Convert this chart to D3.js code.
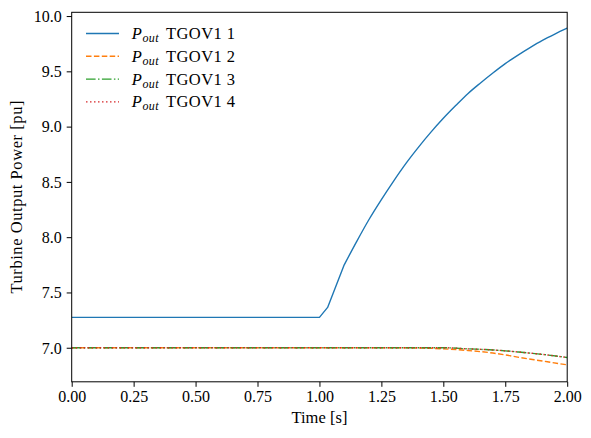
<!DOCTYPE html>
<html lang="en">
<head>
<meta charset="UTF-8">
<title>Turbine Output Power</title>
<style>
  body { margin: 0; background: #fff; }
  svg text { font-family: "Liberation Serif", "DejaVu Serif", serif; fill: #000; }
</style>
</head>
<body>
<svg id="chart" width="591" height="438"></svg>
<script src="https://cdn.jsdelivr.net/npm/d3@7"></script>
<script>
// time samples and read-off values
const timeP1 = [0, 1.0, 1.033, 1.10, 1.15, 1.20, 1.25, 1.30, 1.35, 1.40, 1.45, 1.50, 1.55, 1.60, 1.65, 1.70, 1.75, 1.80, 1.85, 1.90, 1.95, 2.00];
const valP1 = [7.275, 7.275, 7.365, 7.75, 7.96, 8.16, 8.34, 8.51, 8.67, 8.815, 8.95, 9.075, 9.19, 9.30, 9.395, 9.485, 9.57, 9.645, 9.715, 9.78, 9.837, 9.89];

const timeP2 = [0, 1.0, 1.30, 1.40, 1.50, 1.60, 1.70, 1.75, 1.80, 1.90, 2.00];
const valP2 = [7.0, 7.0, 7.0, 6.998, 6.99, 6.975, 6.952, 6.935, 6.915, 6.88, 6.845];

const timeP3 = [0, 1.0, 1.50, 1.60, 1.70, 1.75, 1.80, 1.90, 2.00];
const valP3 = [7.0, 7.0, 7.0, 6.99, 6.98, 6.972, 6.962, 6.94, 6.912];
const valP4 = [7.0, 7.0, 7.0, 6.99, 6.98, 6.972, 6.962, 6.94, 6.912];

const xTicks = [0, 0.25, 0.5, 0.75, 1.0, 1.25, 1.5, 1.75, 2.0];
const yTicks = [7.0, 7.5, 8.0, 8.5, 9.0, 9.5, 10.0];
const seriesNames = ["TGOV1 1", "TGOV1 2", "TGOV1 3", "TGOV1 4"];

// split: step response is piecewise linear up to this index, smooth after
const kinkEnd = 3;

const series = [
  { t: timeP1, v: valP1, color: "#1f77b4", dash: null, split: kinkEnd },
  { t: timeP2, v: valP2, color: "#ff7f0e", dash: "5.5,2.4", split: 0 },
  { t: timeP3, v: valP3, color: "#2ca02c", dash: "9.6,2.4,1.5,2.4", split: 0 },
  { t: timeP3, v: valP4, color: "#d62728", dash: "1.5,2.5", split: 0 }
];

const svg = d3.select("#chart");
const mLeft = 71.7, mTop = 12.3, w = 495.5, h = 369.5;
const fs = 16;

const x = d3.scaleLinear().domain([0, 2]).range([mLeft, mLeft + w]);
const y = d3.scaleLinear().domain([6.692, 10.034]).range([mTop + h, mTop]);

// lines
svg.append("clipPath").attr("id", "clip")
  .append("rect").attr("x", mLeft).attr("y", mTop).attr("width", w).attr("height", h);

const lineLin = d3.line().x(d => x(d[0])).y(d => y(d[1]));
const lineSmooth = d3.line().x(d => x(d[0])).y(d => y(d[1])).curve(d3.curveMonotoneX);
const g = svg.append("g").attr("clip-path", "url(#clip)");
series.forEach(s => {
  const pts = s.t.map((t, i) => [t, s.v[i]]);
  let d = lineSmooth(pts.slice(s.split));
  if (s.split > 0) d = lineLin(pts.slice(0, s.split + 1)) + d.replace(/^M/, "L");
  g.append("path")
    .attr("d", d)
    .attr("fill", "none")
    .attr("stroke", s.color)
    .attr("stroke-width", 1.4)
    .attr("stroke-linejoin", "round")
    .attr("stroke-dasharray", s.dash);
});

// axes
const xAxis = svg.append("g").attr("transform", `translate(0,${mTop + h})`)
  .call(d3.axisBottom(x).tickValues(xTicks).tickFormat(d3.format(".2f")).tickSize(5).tickPadding(4));
const yAxis = svg.append("g").attr("transform", `translate(${mLeft},0)`)
  .call(d3.axisLeft(y).tickValues(yTicks).tickFormat(d3.format(".1f")).tickSize(5).tickPadding(5));
[xAxis, yAxis].forEach(a => {
  a.select(".domain").remove();
  a.selectAll(".tick line").attr("stroke", "#000").attr("stroke-width", 1);
  a.selectAll(".tick text").attr("font-family", "Liberation Serif").attr("font-size", fs);
});
yAxis.selectAll(".tick text").attr("dy", "0.33em");

svg.append("rect").attr("x", mLeft).attr("y", mTop).attr("width", w).attr("height", h)
  .attr("fill", "none").attr("stroke", "#000").attr("stroke-width", 1);

// axis labels
svg.append("text").attr("x", mLeft + w / 2).attr("y", 423)
  .attr("text-anchor", "middle").attr("font-size", 16.5)
  .attr("textLength", 56).attr("lengthAdjust", "spacing").text("Time [s]");
svg.append("text")
  .attr("transform", `translate(22,${mTop + h / 2}) rotate(-90)`)
  .attr("text-anchor", "middle").attr("font-size", 16.5)
  .attr("textLength", 193).attr("lengthAdjust", "spacing").text("Turbine Output Power [pu]");

// legend
const legend = svg.append("g");
series.forEach((s, i) => {
  const ly = 33.5 + i * 22.8;
  legend.append("line").attr("x1", 86).attr("x2", 119).attr("y1", ly).attr("y2", ly)
    .attr("stroke", s.color).attr("stroke-width", 1.4).attr("stroke-dasharray", s.dash);
  legend.append("text").attr("x", 131.7).attr("y", ly + 5.5).attr("font-size", 16.5)
    .attr("font-style", "italic").text("P");
  legend.append("text").attr("x", 142.5).attr("y", ly + 8.5).attr("font-size", 12)
    .attr("font-style", "italic").attr("textLength", 16).attr("lengthAdjust", "spacing").text("out");
  legend.append("text").attr("x", 166).attr("y", ly + 5.5).attr("font-size", 16.5)
    .attr("textLength", 69).attr("lengthAdjust", "spacing").text(seriesNames[i]);
});
</script>
</body>
</html>
